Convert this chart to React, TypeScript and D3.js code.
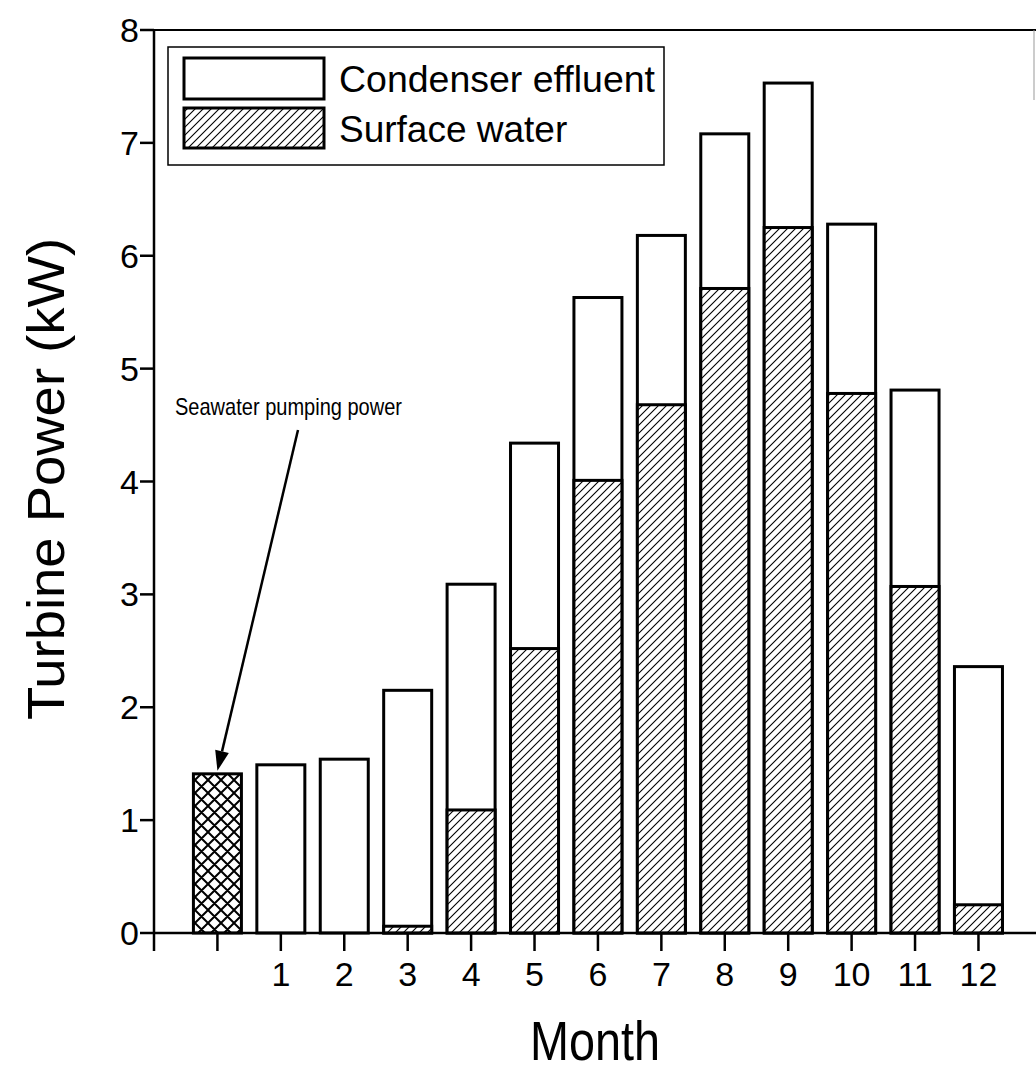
import React from "react";
import * as d3 from "d3";

const months: string[] = ["1", "2", "3", "4", "5", "6", "7", "8", "9", "10", "11", "12"];
const surfaceWater: number[] = [0, 0, 0.06, 1.09, 2.52, 4.01, 4.68, 5.71, 6.25, 4.78, 3.07, 0.25];
const condenserEffluent: number[] = [1.49, 1.54, 2.09, 2.0, 1.82, 1.62, 1.5, 1.37, 1.28, 1.5, 1.74, 2.11];
const seawaterPumping: number = 1.41;
const yTicks: number[] = [0, 1, 2, 3, 4, 5, 6, 7, 8];
const legendLabels: string[] = ["Condenser effluent", "Surface water"];

const W = 1036;
const H = 1072;
const FONT = "'Liberation Sans', Arial, Helvetica, sans-serif";

export default function App() {
  const x = d3.scaleLinear().domain([-1, 13]).range([154, 154 + 14 * 63.42]);
  const y = d3.scaleLinear().domain([0, 8]).range([933, 30]);
  const barW = 48;

  const stack = months.map((m, i) => ({
    m,
    pos: i + 1,
    s: surfaceWater[i],
    c: condenserEffluent[i],
  }));

  const tipX = x(0);
  const tipY = y(seawaterPumping) - 3;
  const sx = 298, sy = 430;
  const dx = tipX - sx, dy = tipY - sy;
  const len = Math.hypot(dx, dy);
  const ux = dx / len, uy = dy / len;
  const bx = tipX - 20 * ux, by = tipY - 20 * uy;
  const px = -uy, py = ux;
  const head = `M${tipX},${tipY}L${bx + 7 * px},${by + 7 * py}L${bx - 7 * px},${by - 7 * py}Z`;

  return (
    <div style={{ position: "absolute", left: 0, top: 0 }}>
      <svg width={W} height={H} viewBox={`0 0 ${W} ${H}`} style={{ display: "block", background: "#fff" }}>
        <defs>
          <pattern id="hatch" patternUnits="userSpaceOnUse" width={8} height={8}>
            <rect width={8} height={8} fill="#fff" />
            <path d="M0,8L8,0M-2,2L2,-2M6,10L10,6" stroke="#000" strokeWidth={1.1} />
          </pattern>
          <pattern id="cross" patternUnits="userSpaceOnUse" width={13} height={13}>
            <rect width={13} height={13} fill="#fff" />
            <path d="M0,13L13,0M-2,2L2,-2M11,15L15,11M0,0L13,13M-2,11L2,15M11,-2L15,2" stroke="#000" strokeWidth={2} />
          </pattern>
        </defs>

        {/* top frame line */}
        <line x1={154} x2={W} y1={y(8)} y2={y(8)} stroke="#000" strokeWidth={2} />
        <line x1={1034} x2={1034} y1={30} y2={100} stroke="#999" strokeWidth={1} />

        {/* bars */}
        {stack.map((d) => (
          <g key={d.m}>
            <rect
              x={x(d.pos) - barW / 2}
              y={y(d.s + d.c)}
              width={barW}
              height={y(0) - y(d.s + d.c)}
              fill="#fff"
              stroke="#000"
              strokeWidth={3}
            />
            {d.s > 0 && (
              <rect
                x={x(d.pos) - barW / 2}
                y={y(d.s)}
                width={barW}
                height={y(0) - y(d.s)}
                fill="url(#hatch)"
                stroke="#000"
                strokeWidth={3}
              />
            )}
          </g>
        ))}
        <rect
          x={x(0) - barW / 2}
          y={y(seawaterPumping)}
          width={barW}
          height={y(0) - y(seawaterPumping)}
          fill="url(#cross)"
          stroke="#000"
          strokeWidth={3}
        />

        {/* axes */}
        <line x1={154} x2={154} y1={y(8)} y2={y(0) + 18} stroke="#000" strokeWidth={2.5} />
        <line x1={154} x2={W} y1={y(0)} y2={y(0)} stroke="#000" strokeWidth={2.5} />
        {yTicks.map((t) => (
          <g key={t}>
            <line x1={140} x2={154} y1={y(t)} y2={y(t)} stroke="#000" strokeWidth={2.5} />
            <text x={139} y={y(t) + 12} textAnchor="end" fontSize={34} fontFamily={FONT} fill="#000">
              {t}
            </text>
          </g>
        ))}
        {d3.range(0, 13).map((i) => (
          <line key={i} x1={x(i)} x2={x(i)} y1={y(0)} y2={y(0) + 18} stroke="#000" strokeWidth={2.5} />
        ))}
        {months.map((m, i) => (
          <text key={m} x={x(i + 1)} y={986} textAnchor="middle" fontSize={34} fontFamily={FONT} fill="#000">
            {m}
          </text>
        ))}

        {/* axis titles */}
        <text x={595} y={1060} textAnchor="middle" fontSize={56} fontFamily={FONT} fill="#000" textLength={130} lengthAdjust="spacingAndGlyphs">
          Month
        </text>
        <text
          transform={`translate(64,479) rotate(-90)`}
          textAnchor="middle"
          fontSize={52}
          fontFamily={FONT}
          fill="#000"
          textLength={482}
          lengthAdjust="spacingAndGlyphs"
        >
          Turbine Power (kW)
        </text>

        {/* legend */}
        <rect x={168} y={47} width={496} height={118} fill="#fff" stroke="#000" strokeWidth={1.5} />
        <rect x={184} y={58} width={140} height={41} fill="#fff" stroke="#000" strokeWidth={3} />
        <rect x={184} y={108} width={140} height={40} fill="url(#hatch)" stroke="#000" strokeWidth={3} />
        <text x={339} y={92} fontSize={37} fontFamily={FONT} fill="#000" textLength={316} lengthAdjust="spacingAndGlyphs">
          {legendLabels[0]}
        </text>
        <text x={339} y={142} fontSize={37} fontFamily={FONT} fill="#000">
          {legendLabels[1]}
        </text>

        {/* annotation */}
        <text x={175} y={415} fontSize={24} fontFamily={FONT} fill="#000" textLength={227} lengthAdjust="spacingAndGlyphs">
          Seawater pumping power
        </text>
        <line x1={sx} y1={sy} x2={bx} y2={by} stroke="#000" strokeWidth={2.5} />
        <path d={head} fill="#000" />
      </svg>
    </div>
  );
}
